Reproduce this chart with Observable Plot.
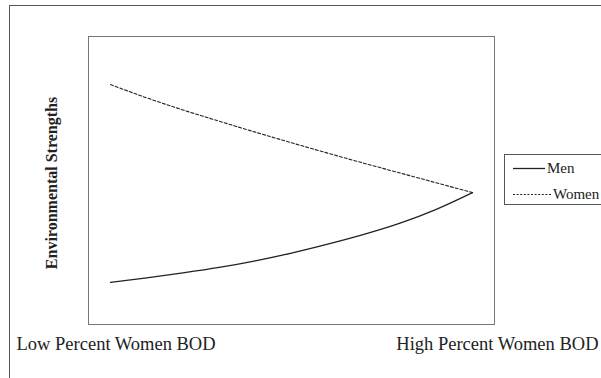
<!DOCTYPE html>
<html>
<head>
<meta charset="utf-8">
<script src="https://cdn.jsdelivr.net/npm/d3@7"></script>
<script src="https://cdn.jsdelivr.net/npm/@observablehq/plot@0.6"></script>
<style>
  html, body { margin: 0; padding: 0; background: #fff; overflow: hidden; }
  #wrap { position: relative; width: 601px; height: 378px; overflow: hidden; font-family: "Liberation Serif", "Times New Roman", serif; }
  #outer { position: absolute; left: 9px; top: 5px; width: 800px; height: 600px; border: 1px solid #555; box-sizing: border-box; pointer-events: none; }
  #chart { position: absolute; left: 0; top: 0; }
  #legend { position: absolute; left: 504px; top: 154px; width: 200px; height: 51px; border: 1px solid #555; box-sizing: border-box; background: #fff; font-size: 15px; color: #222; }
  .row { position: absolute; left: 8px; height: 16px; display: flex; align-items: center; white-space: nowrap; }
  .row svg { display: block; }
</style>
</head>
<body>
<div id="wrap">
  <div id="outer"></div>
  <div id="chart"></div>
  <div id="legend"></div>
</div>
<script>
// Positions along the x axis: 0 = Low, 10 = High percent women on the board
const xs = [0, 1, 2, 3, 4, 5, 6, 7, 8, 9, 10];
// Environmental strengths (arbitrary units, 0–100)
const men   = [14.6, 16.2, 17.9, 19.8, 22.1, 24.8, 27.9, 31.3, 35.2, 40.0, 45.8];
const women = [83.3, 78.7, 74.5, 70.6, 66.8, 63.1, 59.5, 56.0, 52.6, 49.2, 45.8];
const seriesNames = ["Men", "Women"];
const xTickLabels = ["Low Percent Women BOD", "High Percent Women BOD"];
const yLabel = "Environmental Strengths";

const data = [];
xs.forEach((x, i) => data.push({series: "Men", x, y: men[i]}));
xs.forEach((x, i) => data.push({series: "Women", x, y: women[i]}));

const chart = Plot.plot({
  width: 601,
  height: 378,
  marginLeft: 88,
  marginRight: 107,
  marginTop: 36,
  marginBottom: 54,
  style: {fontFamily: "'Liberation Serif', 'Times New Roman', serif", background: "transparent", overflow: "visible"},
  x: {domain: [-0.608, 10.608]},
  y: {domain: [0, 100], axis: null},
  marks: [
    Plot.frame({stroke: "#777", strokeWidth: 1}),
    Plot.line(data.filter(d => d.series === "Men"), {x: "x", y: "y", curve: "monotone-x", stroke: "#222", strokeWidth: 1.3}),
    Plot.line(data.filter(d => d.series === "Women"), {x: "x", y: "y", curve: "monotone-x", stroke: "#222", strokeWidth: 1.1, strokeDasharray: "3,2"}),
    Plot.axisX([xs[0]], {tickSize: 0, tickPadding: 12, tickFormat: () => xTickLabels[0], textAnchor: "start", dx: -94, fontSize: 18.5, fill: "#222", label: null}),
    Plot.axisX([xs[xs.length - 1]], {tickSize: 0, tickPadding: 12, tickFormat: () => xTickLabels[1], textAnchor: "end", dx: 126, fontSize: 18.5, fill: "#222", label: null}),
    Plot.text([yLabel], {frameAnchor: "left", text: d => d, rotate: -90, textAnchor: "middle", dx: -37, dy: 2.5, fontSize: 16, fontWeight: "bold", fill: "#222"})
  ]
});
document.getElementById("chart").appendChild(chart);

// Legend
const legend = document.getElementById("legend");
const styles = {Men: {dash: null, w: 1.3, len: 34}, Women: {dash: "2,1.6", w: 1.1, len: 40}};
const rowsY = [5, 31];
seriesNames.forEach((name, i) => {
  const row = document.createElement("div");
  row.className = "row";
  row.style.top = rowsY[i] + "px";
  const s = styles[name];
  row.innerHTML = `<svg width="${s.len}" height="16"><line x1="0" x2="${s.len - 2}" y1="8.5" y2="8.5" stroke="#222" stroke-width="${s.w}" ${s.dash ? `stroke-dasharray="${s.dash}"` : ""}/></svg><span>${name}</span>`;
  legend.appendChild(row);
});
</script>
</body>
</html>
